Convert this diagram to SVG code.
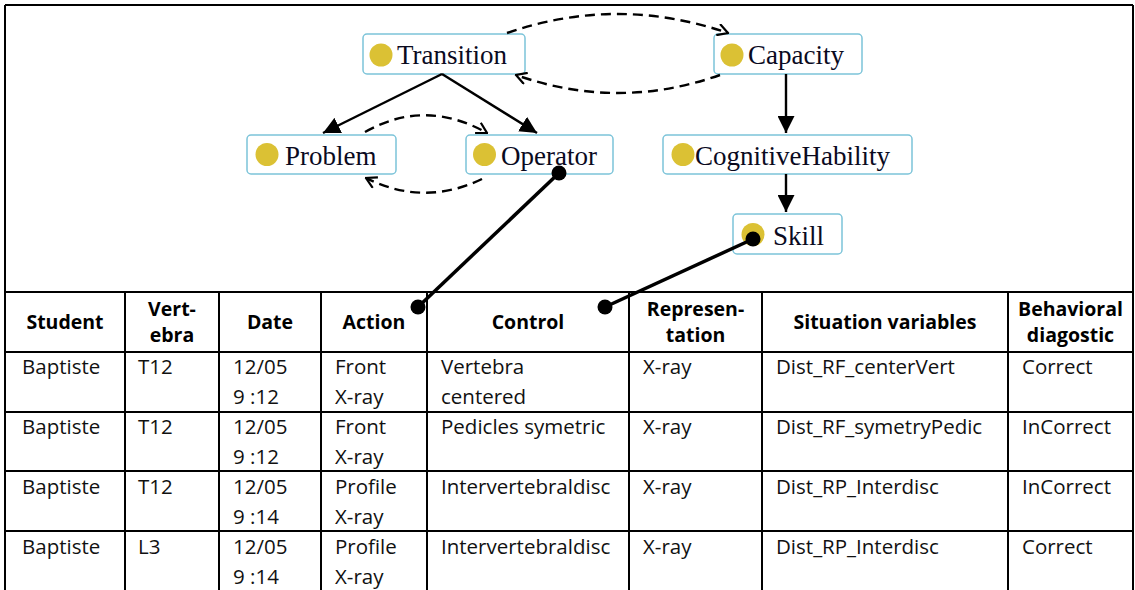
<svg xmlns="http://www.w3.org/2000/svg" width="1135" height="590" viewBox="0 0 1135 590">
<style>
.box{fill:#fff;stroke:#7cc4d9;stroke-width:1.5}
.dot{fill:#dbc134}
.lbl{font-family:"Liberation Serif","Times New Roman",serif;font-size:27px;fill:#0a0a1e}
.solid{fill:none;stroke:#000;stroke-width:2.4}
.dash{fill:none;stroke:#000;stroke-width:2.4;stroke-dasharray:10 6}
.link{stroke:#000;stroke-width:3.5}
.ball{fill:#000}
.grid{stroke:#000;stroke-width:2;fill:none}
.th{font-family:"Open Sans","Liberation Sans",sans-serif;font-size:19.5px;font-weight:bold;fill:#000;text-anchor:middle}
.td{font-family:"Open Sans","Liberation Sans",sans-serif;font-size:20.5px;fill:#111}
</style>
<defs>
<marker id="tri" viewBox="0 0 10 10" refX="10" refY="5" markerWidth="17" markerHeight="17" markerUnits="userSpaceOnUse" orient="auto">
<path d="M0,0 L10,5 L0,10 z" fill="#000"/>
</marker>
<marker id="chev" viewBox="0 0 10 10" refX="9" refY="5" markerWidth="13" markerHeight="13" markerUnits="userSpaceOnUse" orient="auto">
<path d="M1,0.5 L9,5 L1,9.5" fill="none" stroke="#000" stroke-width="1.7"/>
</marker>
</defs>
<rect x="0" y="0" width="1135" height="590" fill="#fff"/>
<path class="grid" d="M5,5 H1133 M5,5 V590 M1133,5 V590"/>

<g id="node-transition">
<rect class="box" x="363" y="34" width="162" height="40" rx="4"/>
<circle class="dot" cx="381" cy="55" r="11.5"/>
<text class="lbl" x="397" y="64">Transition</text>
</g>
<g id="node-capacity">
<rect class="box" x="714" y="34" width="148" height="40" rx="4"/>
<circle class="dot" cx="732" cy="55" r="11.5"/>
<text class="lbl" x="748" y="64">Capacity</text>
</g>
<g id="node-problem">
<rect class="box" x="247" y="135" width="149" height="39" rx="4"/>
<circle class="dot" cx="267" cy="154.5" r="11.5"/>
<text class="lbl" x="285" y="164.5">Problem</text>
</g>
<g id="node-operator">
<rect class="box" x="466" y="135" width="147" height="39" rx="4"/>
<circle class="dot" cx="484.5" cy="154.5" r="11.5"/>
<text class="lbl" x="501" y="164.5">Operator</text>
</g>
<g id="node-cognitivehability">
<rect class="box" x="663" y="135" width="249" height="39" rx="4"/>
<circle class="dot" cx="683" cy="154.5" r="11.5"/>
<text class="lbl" x="695" y="164.5">CognitiveHability</text>
</g>
<g id="node-skill">
<rect class="box" x="733" y="214" width="109" height="40" rx="4"/>
<circle class="dot" cx="753" cy="234.5" r="11.5"/>
<text class="lbl" x="773" y="244.5">Skill</text>
</g>

<g id="table">
<path class="grid" d="M5,292 H1133 M5,352 H1133 M5,412 H1133 M5,471 H1133 M5,531 H1133 M125,292 V590 M219,292 V590 M321,292 V590 M427,292 V590 M629,292 V590 M762,292 V590 M1008,292 V590"/>
<text class="th" x="65" y="329">Student</text>
<text class="th" x="172" y="316">Vert-</text>
<text class="th" x="172" y="342">ebra</text>
<text class="th" x="270" y="329">Date</text>
<text class="th" x="374" y="329">Action</text>
<text class="th" x="528" y="329">Control</text>
<text class="th" x="695.5" y="316">Represen-</text>
<text class="th" x="695.5" y="342">tation</text>
<text class="th" x="885" y="329">Situation variables</text>
<text class="th" x="1070.5" y="316">Behavioral</text>
<text class="th" x="1070.5" y="342">diagostic</text>

<text class="td" x="22" y="374">Baptiste</text>
<text class="td" x="138" y="374">T12</text>
<text class="td" x="233" y="374">12/05</text>
<text class="td" x="233" y="404">9 :12</text>
<text class="td" x="335" y="374">Front</text>
<text class="td" x="335" y="404">X-ray</text>
<text class="td" x="441" y="374">Vertebra</text>
<text class="td" x="441" y="404">centered</text>
<text class="td" x="643" y="374">X-ray</text>
<text class="td" x="776" y="374">Dist_RF_centerVert</text>
<text class="td" x="1022" y="374">Correct</text>

<text class="td" x="22" y="434">Baptiste</text>
<text class="td" x="138" y="434">T12</text>
<text class="td" x="233" y="434">12/05</text>
<text class="td" x="233" y="464">9 :12</text>
<text class="td" x="335" y="434">Front</text>
<text class="td" x="335" y="464">X-ray</text>
<text class="td" x="441" y="434">Pedicles symetric</text>
<text class="td" x="643" y="434">X-ray</text>
<text class="td" x="776" y="434">Dist_RF_symetryPedic</text>
<text class="td" x="1022" y="434">InCorrect</text>

<text class="td" x="22" y="494">Baptiste</text>
<text class="td" x="138" y="494">T12</text>
<text class="td" x="233" y="494">12/05</text>
<text class="td" x="233" y="524">9 :14</text>
<text class="td" x="335" y="494">Profile</text>
<text class="td" x="335" y="524">X-ray</text>
<text class="td" x="441" y="494">Intervertebraldisc</text>
<text class="td" x="643" y="494">X-ray</text>
<text class="td" x="776" y="494">Dist_RP_Interdisc</text>
<text class="td" x="1022" y="494">InCorrect</text>

<text class="td" x="22" y="554">Baptiste</text>
<text class="td" x="138" y="554">L3</text>
<text class="td" x="233" y="554">12/05</text>
<text class="td" x="233" y="584">9 :14</text>
<text class="td" x="335" y="554">Profile</text>
<text class="td" x="335" y="584">X-ray</text>
<text class="td" x="441" y="554">Intervertebraldisc</text>
<text class="td" x="643" y="554">X-ray</text>
<text class="td" x="776" y="554">Dist_RP_Interdisc</text>
<text class="td" x="1022" y="554">Correct</text>
</g>

<g id="connectors">
<path class="solid" d="M442,74 L323,133" marker-end="url(#tri)"/>
<path class="solid" d="M442,74 L537,133" marker-end="url(#tri)"/>
<path class="solid" d="M786,74 L786,133" marker-end="url(#tri)"/>
<path class="solid" d="M786,174 L786,212" marker-end="url(#tri)"/>
<path class="dash" d="M507,33 Q617,-5 728,33" marker-end="url(#chev)"/>
<path class="dash" d="M720,75 Q618,111 516,75" marker-end="url(#chev)"/>
<path class="dash" d="M365,132 Q425,98 487,133" marker-end="url(#chev)"/>
<path class="dash" d="M482,179 Q424,207 366,178" marker-end="url(#chev)"/>
<line class="link" x1="559" y1="173" x2="418" y2="307"/>
<circle class="ball" cx="559" cy="173" r="7.5"/>
<circle class="ball" cx="418" cy="307" r="7.5"/>
<line class="link" x1="753" y1="239" x2="605" y2="307"/>
<circle class="ball" cx="753" cy="239" r="7.5"/>
<circle class="ball" cx="605" cy="307" r="7.5"/>
</g>
</svg>
